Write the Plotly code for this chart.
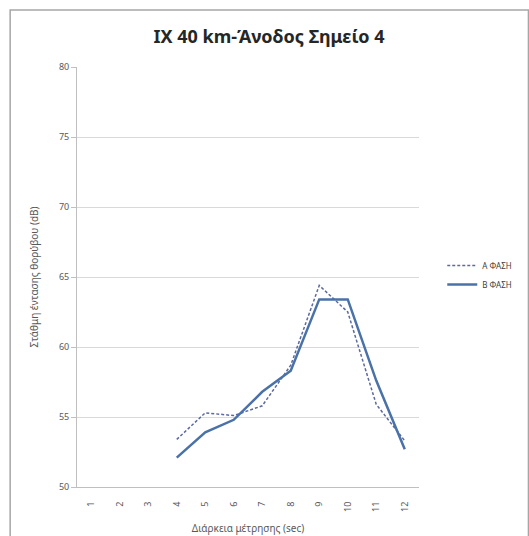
import plotly.graph_objects as go

# Measurement second (x categories) and noise level per phase (dB)
seconds = [1, 2, 3, 4, 5, 6, 7, 8, 9, 10, 11, 12]
phase_a = [None, None, None, 53.4, 55.3, 55.1, 55.8, 58.7, 64.4, 62.5, 55.9, 53.3]
phase_b = [None, None, None, 52.1, 53.9, 54.8, 56.8, 58.3, 63.4, 63.4, 57.6, 52.7]
y_ticks = [50, 55, 60, 65, 70, 75, 80]

font_family = "Noto Sans, Open Sans, DejaVu Sans, sans-serif"

fig = go.Figure()
fig.add_trace(go.Scatter(
    x=seconds, y=phase_a, mode="lines", name="Α ΦΑΣΗ",
    line=dict(color="#5b6a9e", width=1.5, dash="3px,2px"),
))
fig.add_trace(go.Scatter(
    x=seconds, y=phase_b, mode="lines", name="Β ΦΑΣΗ",
    line=dict(color="#4a72a8", width=2.5),
))

fig.update_layout(
    width=529, height=536,
    margin=dict(l=77, r=99, t=67, b=49),
    paper_bgcolor="white", plot_bgcolor="white",
    font=dict(family=font_family, color="#595959"),
    title=dict(
        text="<b>IX 40 km-Άνοδος Σημείο 4</b>",
        x=269 / 529, xanchor="center", y=1 - 37 / 536, yanchor="middle",
        font=dict(size=18, color="#262626", family=font_family),
    ),
    showlegend=True,
    legend=dict(
        x=1.068, y=0.505, xanchor="left", yanchor="middle",
        font=dict(size=8, color="#404040"),
        bgcolor="rgba(0,0,0,0)", tracegroupgap=10, itemwidth=30,
    ),
    xaxis=dict(
        range=[0.5, 12.5], tickmode="array", tickvals=seconds,
        ticktext=[str(s) for s in seconds], tickangle=-90,
        tickfont=dict(size=9, color="#595959"),
        ticklabelstandoff=10, automargin=False,
        showgrid=False, zeroline=False,
        showline=True, linecolor="#bfbfbf", linewidth=1,
        ticks="", title=dict(text="Διάρκεια μέτρησης (sec)",
                             font=dict(size=10, color="#595959"), standoff=14),
    ),
    yaxis=dict(
        range=[50, 80], tickmode="array", tickvals=y_ticks,
        tickfont=dict(size=9, color="#595959"), automargin=False,
        showgrid=True, gridcolor="#d9d9d9", gridwidth=1, zeroline=False,
        showline=True, linecolor="#bfbfbf", linewidth=1,
        ticks="outside", ticklen=5, tickcolor="#bfbfbf",
        title=dict(text="Στάθμη έντασης θορύβου (dB)",
                   font=dict(size=10, color="#595959"), standoff=18),
    ),
)

# Outer chart-area border
fig.add_shape(
    type="rect", xref="paper", yref="paper",
    x0=-69 / 353, x1=1.32, y0=-0.15, y1=477 / 420,
    line=dict(color="#a6a6a6", width=1.5), fillcolor="rgba(0,0,0,0)", layer="below",
)

fig.write_html("out.html")
